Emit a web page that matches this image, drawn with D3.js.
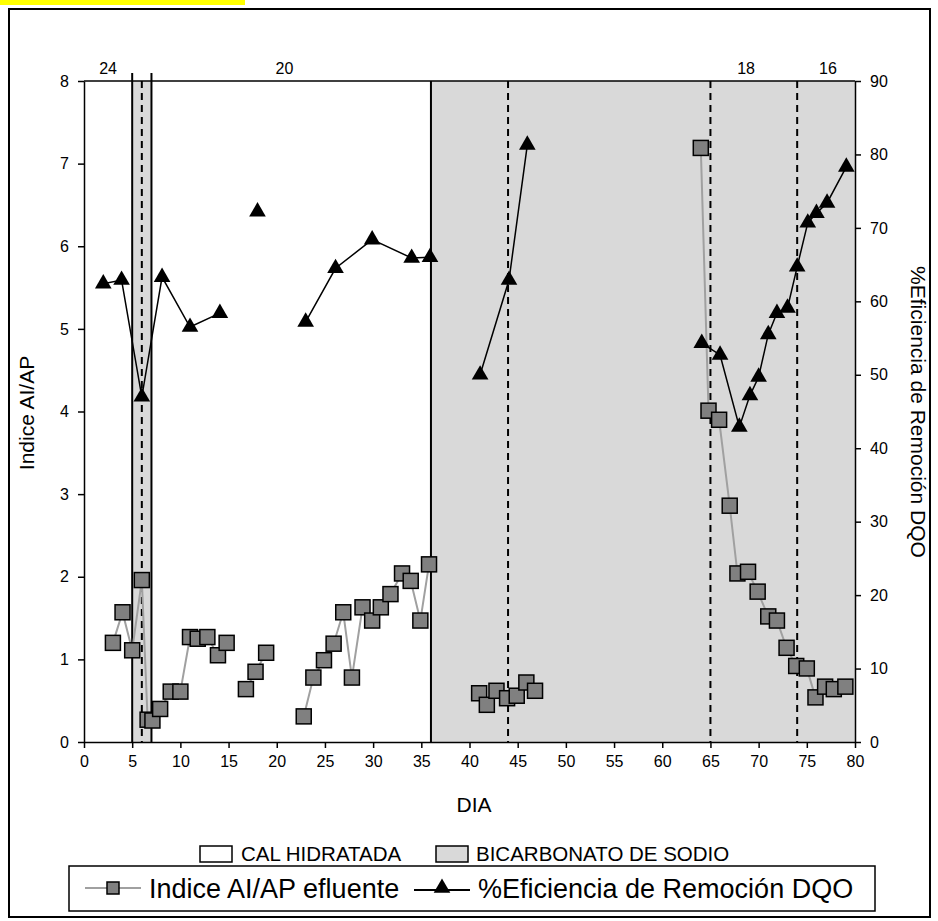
<!DOCTYPE html>
<html>
<head>
<meta charset="utf-8">
<script src="https://cdn.jsdelivr.net/npm/d3@7"></script>
<style>
  body { margin: 0; background: #fff; }
  text { font-family: "Liberation Sans", Arial, sans-serif; fill: #000; }
</style>
</head>
<body>
<svg id="chart" width="938" height="921"></svg>
<script>
// data (null = gap in the line)
const diaAI = [3, 4, 5, 6, 6.6, 7.1, 7.9, 9, 10, 11, 11.8, 12.8, 13.9, 14.8, null,
  16.8, 17.8, 18.9, null,
  22.8, 23.8, 24.9, 25.9, 26.9, 27.8, 28.9, 29.9, 30.8, 31.8, 33, 33.9, 34.9, 35.8, null,
  41, 41.8, 42.8, 43.9, 44.9, 45.9, 46.8, null,
  64, 64.8, 65.9, 67, 67.8, 68.9, 69.9, 71, 71.9, 72.9, 73.9, 75, 75.9, 76.9, 77.8, 79];
const indiceAI = [1.20, 1.57, 1.11, 1.96, 0.27, 0.26, 0.40, 0.61, 0.61, 1.27, 1.25, 1.27, 1.05, 1.20, null,
  0.64, 0.85, 1.08, null,
  0.31, 0.78, 0.99, 1.19, 1.57, 0.78, 1.63, 1.47, 1.63, 1.79, 2.04, 1.95, 1.47, 2.15, null,
  0.59, 0.45, 0.62, 0.53, 0.56, 0.72, 0.62, null,
  7.19, 4.01, 3.90, 2.86, 2.04, 2.06, 1.82, 1.52, 1.47, 1.14, 0.92, 0.89, 0.54, 0.67, 0.64, 0.67];

const diaDQO = [2, 3.9, 6, 8.1, 11, 14.1, null,
  18, null,
  23, 26.1, 29.9, 34, 35.9, null,
  41.1, 44.1, 46, null,
  64.1, 66, 68, 69.1, 70, 71, 71.9, 73, 74, 75.1, 76, 77.1, 79.1];
const eficDQO = [62.4, 62.9, 47.0, 63.3, 56.5, 58.4, null,
  72.2, null,
  57.2, 64.5, 68.4, 65.9, 66.0, null,
  50.0, 62.9, 81.3, null,
  54.3, 52.7, 42.9, 47.2, 49.7, 55.5, 58.4, 59.1, 64.7, 70.7, 72.0, 73.4, 78.3];

// alkali periods (grey = bicarbonato)
const bicarbStart = [5, 36];
const bicarbEnd = [7, 80];
const solidLines = [5, 7, 36];
const dashedLines = [6, 44, 65, 74];
const topLabels = ["24", "20", "18", "16"];
const topLabelDia = [2.5, 20.8, 68.7, 77.2];

const xTicks = d3.range(0, 81, 5);
const yLTicks = d3.range(0, 9, 1);
const yRTicks = d3.range(0, 91, 10);

const svg = d3.select("#chart");

const x = d3.scaleLinear().domain([0, 80]).range([84, 855]);
const yL = d3.scaleLinear().domain([0, 8]).range([742, 81]);
const yR = d3.scaleLinear().domain([0, 90]).range([742, 81]);

// yellow strip + outer frame
svg.append("rect").attr("x", 0).attr("y", 0).attr("width", 245).attr("height", 5).attr("fill", "#ffff00");
svg.append("rect").attr("x", 9).attr("y", 9).attr("width", 921).attr("height", 908)
  .attr("fill", "none").attr("stroke", "#000").attr("stroke-width", 2);

// shaded periods
svg.selectAll(".band").data(bicarbStart).enter().append("rect")
  .attr("x", (d) => x(d))
  .attr("y", yL(8))
  .attr("width", (d, i) => x(bicarbEnd[i]) - x(d))
  .attr("height", yL(0) - yL(8))
  .attr("fill", "#d9d9d9");

svg.selectAll(".sline").data(solidLines).enter().append("line")
  .attr("x1", (d) => x(d)).attr("x2", (d) => x(d))
  .attr("y1", (d) => d < 10 ? yL(8) - 8 : yL(8)).attr("y2", yL(0))
  .attr("stroke", "#000").attr("stroke-width", 2);

svg.selectAll(".dline").data(dashedLines).enter().append("line")
  .attr("x1", (d) => x(d)).attr("x2", (d) => x(d))
  .attr("y1", yL(8)).attr("y2", yL(0))
  .attr("stroke", "#000").attr("stroke-width", 2).attr("stroke-dasharray", "7,5");

// top frame line
svg.append("line").attr("x1", x(0)).attr("x2", x(80)).attr("y1", yL(8)).attr("y2", yL(8))
  .attr("stroke", "#000").attr("stroke-width", 1.5);

// axes
function styleAxis(g) {
  g.select(".domain").attr("stroke", "#000").attr("stroke-width", 1.5);
  g.selectAll(".tick line").attr("stroke", "#000").attr("stroke-width", 1.5);
  g.selectAll(".tick text").style("font-size", "16px").style("font-family", "Liberation Sans, Arial, sans-serif");
}
svg.append("g").attr("transform", "translate(0," + yL(0) + ")")
  .call(d3.axisBottom(x).tickValues(xTicks).tickSize(6).tickSizeOuter(0).tickPadding(8))
  .call(styleAxis);
svg.append("g").attr("transform", "translate(" + x(0) + ",0)")
  .call(d3.axisLeft(yL).tickValues(yLTicks).tickSize(6).tickSizeOuter(0).tickPadding(9))
  .call(styleAxis);
svg.append("g").attr("transform", "translate(" + x(80) + ",0)")
  .call(d3.axisRight(yR).tickValues(yRTicks).tickSize(6).tickSizeOuter(0).tickPadding(9))
  .call(styleAxis);

// top period labels
svg.selectAll(".toplab").data(topLabels).enter().append("text")
  .attr("x", (d, i) => x(topLabelDia[i])).attr("y", 74)
  .attr("text-anchor", "middle").style("font-size", "16px").text((d) => d);

// Indice AI/AP line + squares
const lineAI = d3.line()
  .defined((d, i) => indiceAI[i] !== null)
  .x((d, i) => x(diaAI[i])).y((d, i) => yL(indiceAI[i]));
svg.append("path").datum(diaAI).attr("d", lineAI)
  .attr("fill", "none").attr("stroke", "#a0a0a0").attr("stroke-width", 2);

const ptsAI = diaAI.map((d, i) => [d, indiceAI[i]]).filter((p) => p[1] !== null);
svg.selectAll(".sq").data(ptsAI).enter().append("rect")
  .attr("x", (d) => x(d[0]) - 7.5).attr("y", (d) => yL(d[1]) - 7.5)
  .attr("width", 15).attr("height", 15)
  .attr("fill", "#808080").attr("stroke", "#000").attr("stroke-width", 1.5);

// %Eficiencia line + triangles
const lineDQO = d3.line()
  .defined((d, i) => eficDQO[i] !== null)
  .x((d, i) => x(diaDQO[i])).y((d, i) => yR(eficDQO[i]));
svg.append("path").datum(diaDQO).attr("d", lineDQO)
  .attr("fill", "none").attr("stroke", "#000").attr("stroke-width", 1.5);

const ptsDQO = diaDQO.map((d, i) => [d, eficDQO[i]]).filter((p) => p[1] !== null);
const tri = d3.symbol().type(d3.symbolTriangle).size(120);
svg.selectAll(".tri").data(ptsDQO).enter().append("path")
  .attr("d", tri)
  .attr("transform", (d) => "translate(" + x(d[0]) + "," + yR(d[1]) + ")")
  .attr("fill", "#000");

// axis titles
svg.append("text").attr("x", 474).attr("y", 812).attr("text-anchor", "middle")
  .style("font-size", "21px").text("DIA");
svg.append("text").attr("transform", "translate(34,413) rotate(-90)").attr("text-anchor", "middle")
  .style("font-size", "21px").text("Indice AI/AP");
svg.append("text").attr("transform", "translate(911,412) rotate(90)").attr("text-anchor", "middle")
  .style("font-size", "21px").text("%Eficiencia de Remoción DQO");

// legend 1: periods
const leg1 = svg.append("g");
leg1.append("rect").attr("x", 200).attr("y", 846).attr("width", 32).attr("height", 16)
  .attr("fill", "#fff").attr("stroke", "#000").attr("stroke-width", 1.5);
leg1.append("text").attr("x", 241).attr("y", 861).style("font-size", "20.5px").text("CAL HIDRATADA");
leg1.append("rect").attr("x", 436).attr("y", 846).attr("width", 32).attr("height", 16)
  .attr("fill", "#d9d9d9").attr("stroke", "#000").attr("stroke-width", 1.5);
leg1.append("text").attr("x", 476).attr("y", 861).style("font-size", "20.5px").text("BICARBONATO DE SODIO");

// legend 2: series
const leg2 = svg.append("g");
leg2.append("rect").attr("x", 69).attr("y", 866).attr("width", 806).attr("height", 45)
  .attr("fill", "#fff").attr("stroke", "#000").attr("stroke-width", 1.5);
leg2.append("line").attr("x1", 85).attr("x2", 141).attr("y1", 888).attr("y2", 888)
  .attr("stroke", "#a0a0a0").attr("stroke-width", 2);
leg2.append("rect").attr("x", 107).attr("y", 882).attr("width", 12).attr("height", 12)
  .attr("fill", "#808080").attr("stroke", "#000").attr("stroke-width", 1.5);
leg2.append("text").attr("x", 149).attr("y", 898).style("font-size", "27px").text("Indice AI/AP efluente");
leg2.append("line").attr("x1", 414).attr("x2", 470).attr("y1", 890).attr("y2", 890)
  .attr("stroke", "#000").attr("stroke-width", 2);
leg2.append("path").attr("d", tri).attr("transform", "translate(442,888)").attr("fill", "#000");
leg2.append("text").attr("x", 478).attr("y", 898).style("font-size", "27px").text("%Eficiencia de Remoción DQO");
</script>
</body>
</html>
